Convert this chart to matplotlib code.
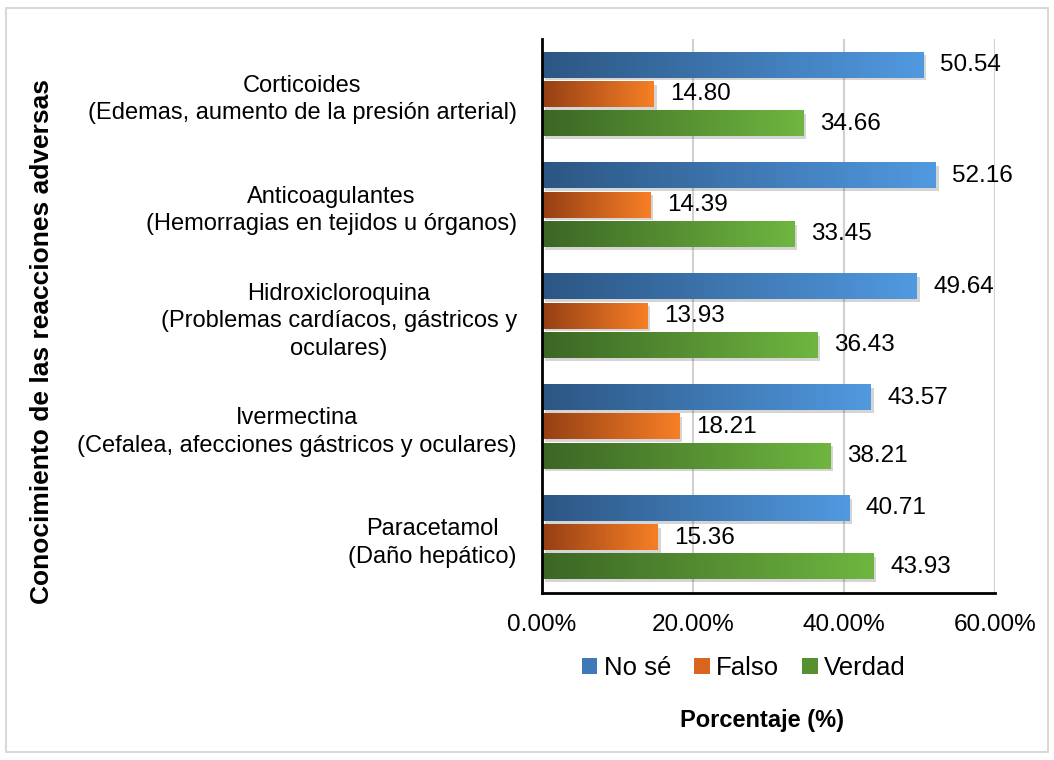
import numpy as np
import matplotlib.pyplot as plt
from matplotlib.colors import LinearSegmentedColormap
from matplotlib.patches import Rectangle, Patch
import matplotlib.patheffects as pe

plt.rcParams['font.family'] = ['Liberation Sans', 'DejaVu Sans']

categories = ['Corticoides\n(Edemas, aumento de la presión arterial)',
              'Anticoagulantes\n(Hemorragias en tejidos u órganos)',
              'Hidroxicloroquina\n(Problemas cardíacos, gástricos y\noculares)',
              'Ivermectina\n(Cefalea, afecciones gástricos y oculares)',
              'Paracetamol\n(Daño hepático)']
series = ['No sé', 'Falso', 'Verdad']
no_se = [50.54, 52.16, 49.64, 43.57, 40.71]
falso = [14.80, 14.39, 13.93, 18.21, 15.36]
verdad = [34.66, 33.45, 36.43, 38.21, 43.93]
xticks = [0, 20, 40, 60]

grads = [('#2c5683', '#5199e0'), ('#953f14', '#f77f26'), ('#3b6624', '#6fb640')]
mid_cols = ['#3f7ab8', '#d8661f', '#569130']

fig = plt.figure(figsize=(10.54, 7.6), dpi=100)
ax = fig.add_axes([542/1054, 1-593/760, (995-542)/1054, (593-39)/760])

y = np.arange(len(categories))[::-1].astype(float)
pitch = 0.264
h = 0.226
grad = np.linspace(0, 1, 256).reshape(1, -1)

for i, vals in enumerate([no_se, falso, verdad]):
    ypos = y + pitch * (1 - i)
    bars = ax.barh(ypos, vals, height=h, color=mid_cols[i], zorder=3,
                   path_effects=[pe.SimplePatchShadow(offset=(2, -2), alpha=0.22, shadow_rgbFace='#444444'),
                                 pe.Normal()])
    cmap = LinearSegmentedColormap.from_list('g%d' % i, grads[i])
    for b, v in zip(bars, vals):
        x0, y0 = b.get_x(), b.get_y()
        ax.imshow(grad, extent=[x0, x0 + b.get_width(), y0, y0 + b.get_height()],
                  cmap=cmap, aspect='auto', zorder=4, interpolation='bicubic')
        ax.text(v + 2.2, y0 + h / 2, '%.2f' % v, va='center', ha='left', fontsize=17.5, zorder=5)

ax.set_xlim(0, 60)
ax.set_ylim(-0.5, 4.5)
ax.set_aspect('auto')
ax.set_xticks(xticks)
ax.set_xticklabels(['%.2f%%' % t for t in xticks], fontsize=17.5)
ax.set_yticks(y)
ax.set_yticklabels(categories, fontsize=17, multialignment='center', linespacing=1.32)
ax.tick_params(length=0, axis='x', pad=15)
ax.tick_params(length=0, axis='y', pad=18)
ax.grid(axis='x', color='#d0d0d0', lw=1.5, zorder=0)
for s in ['top', 'right']:
    ax.spines[s].set_visible(False)
ax.spines['left'].set_linewidth(2)
ax.spines['bottom'].set_linewidth(2)
ax.spines['left'].set_zorder(6)

handles = [Patch(facecolor=c, edgecolor='none') for c in mid_cols]
fig.legend(handles, series, loc='center', bbox_to_anchor=(744/1054, 1-668/760), ncol=3,
           frameon=False, fontsize=18.5, handlelength=0.6, handleheight=0.6,
           handletextpad=0.25, columnspacing=0.9)

fig.text(0.04, 1-341/760, 'Conocimiento de las reacciones adversas', rotation=90,
         fontsize=19, fontweight='bold', ha='center', va='center')
fig.text(762/1054, 1-720/760, 'Porcentaje (%)', fontsize=17, fontweight='bold',
         ha='center', va='center')

fig.patches.append(Rectangle((6/1054, 8/760), 1042/1054, 744/760, transform=fig.transFigure,
                             fill=False, edgecolor='#d9d9d9', lw=1.5))

fig.savefig('out.png', dpi=100)
